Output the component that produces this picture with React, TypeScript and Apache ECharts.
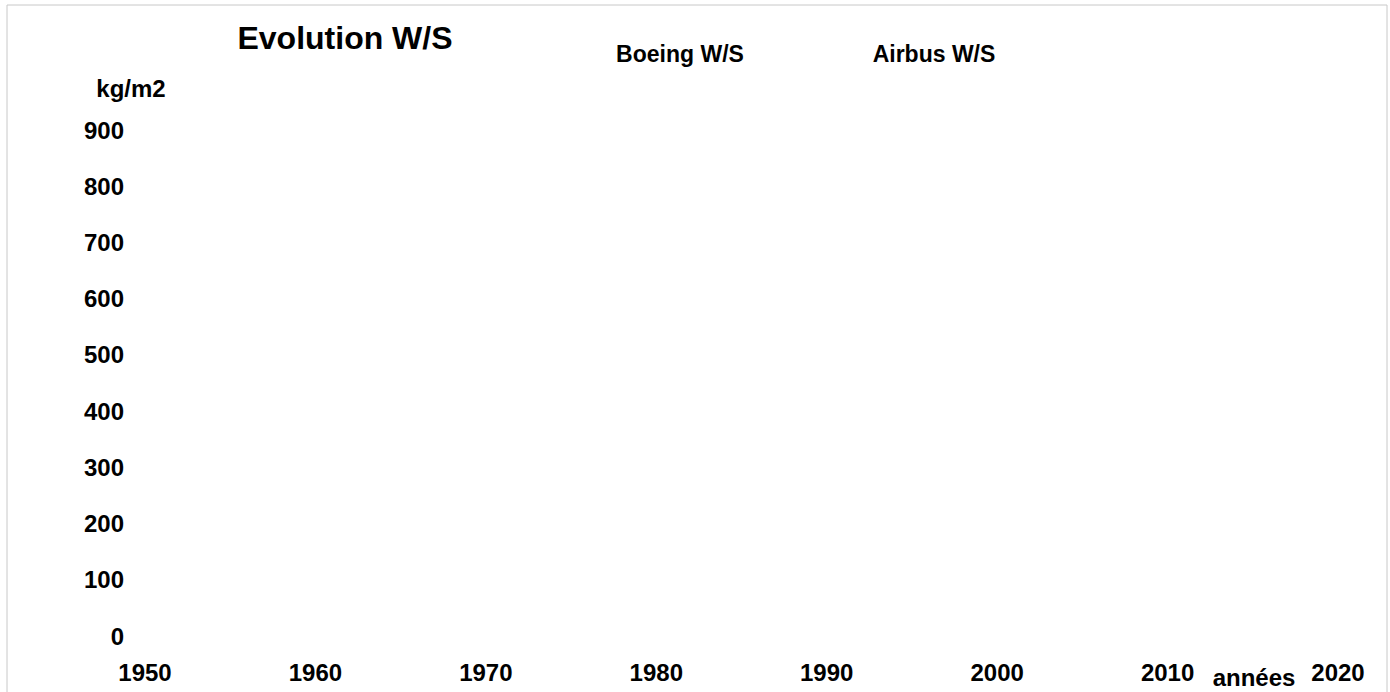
import React, { useEffect, useRef } from "react";
import * as echarts from "echarts";

// Data (the reference chart shows no plotted points)
const boeingWS: [number, number][] = [];
const airbusWS: [number, number][] = [];
const yearMin = 1950;
const yearMax = 2020;
const yearStep = 10;
const wsMax = 900;
const wsStep = 100;
const seriesNames = ["Boeing W/S", "Airbus W/S"];

const FONT = "'Liberation Sans', Arial, sans-serif";

export default function App() {
  const ref = useRef<HTMLDivElement>(null);
  useEffect(() => {
    document.body.style.margin = "0";
    if (!ref.current) return;
    const chart = echarts.init(ref.current, undefined, { renderer: "svg" });
    chart.setOption({
      animation: false,
      backgroundColor: "#ffffff",
      textStyle: { fontFamily: FONT },
      grid: { left: 145, right: 52, top: 130, bottom: 56, containLabel: false },
      xAxis: {
        type: "value",
        min: yearMin,
        max: yearMax,
        interval: yearStep,
        axisLine: { show: false },
        axisTick: { show: false },
        splitLine: { show: false },
        axisLabel: {
          margin: 24,
          color: "#000",
          fontWeight: "bold",
          fontSize: 24,
          fontFamily: FONT,
          formatter: (v: number) => String(v),
        },
      },
      yAxis: {
        type: "value",
        min: 0,
        max: wsMax,
        interval: wsStep,
        axisLine: { show: false },
        axisTick: { show: false },
        splitLine: { show: false },
        axisLabel: {
          margin: 21,
          color: "#000",
          fontWeight: "bold",
          fontSize: 24,
          fontFamily: FONT,
        },
      },
      series: [
        { name: seriesNames[0], type: "line", data: boeingWS, showSymbol: false },
        { name: seriesNames[1], type: "line", data: airbusWS, showSymbol: false },
      ],
      graphic: [
        {
          type: "rect",
          shape: { x: 7, y: 5, width: 1380, height: 700 },
          style: { fill: "none", stroke: "#c8c8c8", lineWidth: 1 },
          silent: true,
        },
        {
          type: "text",
          x: 345,
          y: 38,
          style: {
            text: "Evolution W/S",
            fontSize: 32,
            fontWeight: "bold",
            fontFamily: FONT,
            fill: "#000",
            align: "center",
            verticalAlign: "middle",
          },
        },
        {
          type: "text",
          x: 131,
          y: 88,
          style: {
            text: "kg/m2",
            fontSize: 24,
            fontWeight: "bold",
            fontFamily: FONT,
            fill: "#000",
            align: "center",
            verticalAlign: "middle",
          },
        },
        {
          type: "text",
          x: 680,
          y: 54,
          style: {
            text: seriesNames[0],
            fontSize: 23,
            fontWeight: "bold",
            fontFamily: FONT,
            fill: "#000",
            align: "center",
            verticalAlign: "middle",
          },
        },
        {
          type: "text",
          x: 934,
          y: 54,
          style: {
            text: seriesNames[1],
            fontSize: 23,
            fontWeight: "bold",
            fontFamily: FONT,
            fill: "#000",
            align: "center",
            verticalAlign: "middle",
          },
        },
        {
          type: "text",
          x: 1254,
          y: 677,
          style: {
            text: "années",
            fontSize: 24,
            fontWeight: "bold",
            fontFamily: FONT,
            fill: "#000",
            align: "center",
            verticalAlign: "middle",
          },
        },
      ],
    });
    return () => chart.dispose();
  }, []);
  return <div ref={ref} style={{ width: 1390, height: 692 }} />;
}
